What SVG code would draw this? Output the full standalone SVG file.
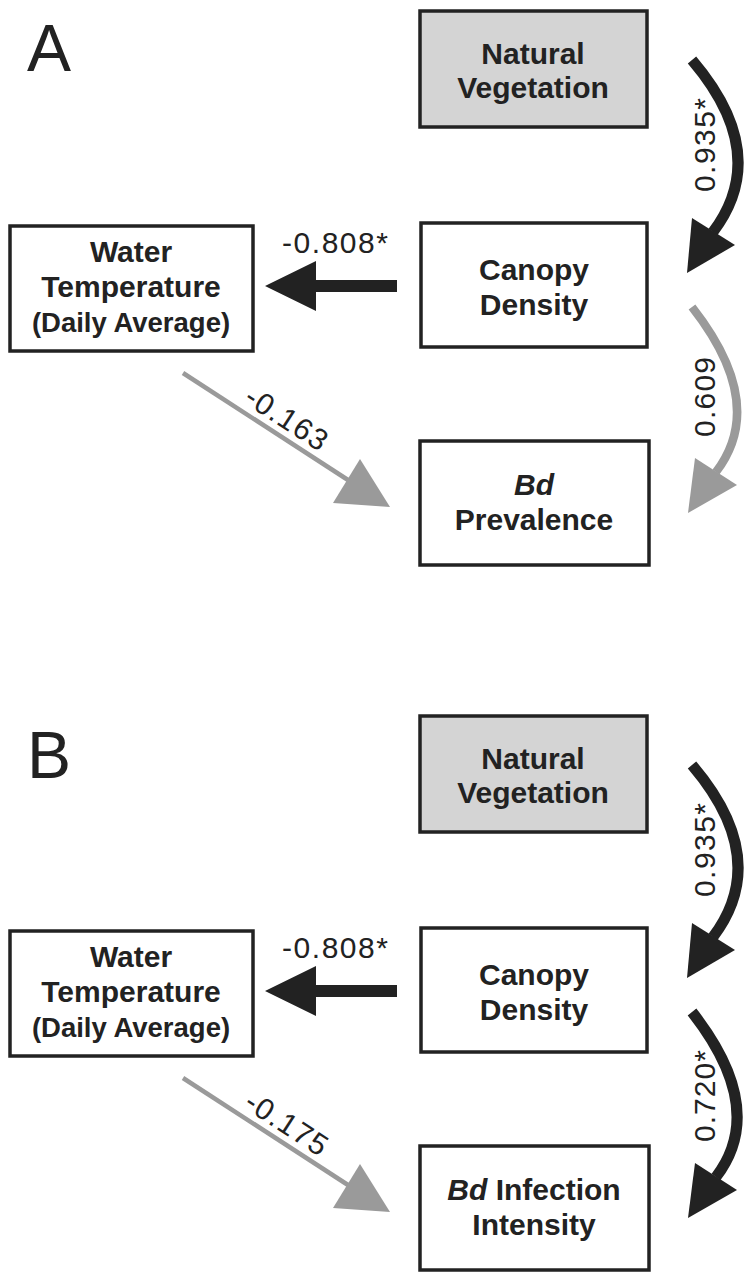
<svg xmlns="http://www.w3.org/2000/svg" width="753" height="1281" viewBox="0 0 753 1281">
<style>
.box{fill:#fff;stroke:#222;stroke-width:3.5}
.grey{fill:#d4d4d4}
.t{font-family:"Liberation Sans",Arial,sans-serif;font-weight:bold;font-size:30px;fill:#222;text-anchor:middle}
.ts{font-size:27.5px}
.lab{font-family:"Liberation Sans",Arial,sans-serif;font-size:30px;fill:#222;text-anchor:middle}
.panel{font-family:"Liberation Sans",Arial,sans-serif;font-size:66px;fill:#222}
.arcb{fill:none;stroke:#222;stroke-width:11}
.arcg{fill:none;stroke:#9a9a9a;stroke-width:8.5}
.lineg{fill:none;stroke:#9a9a9a;stroke-width:4.5}
.hb{fill:#222}
.hg{fill:#9a9a9a}
</style>
<rect width="753" height="1281" fill="#fff"/>
<text class="panel" x="27" y="71">A</text>
<text class="panel" x="27" y="778">B</text>

<g id="A-natural-vegetation">
<rect class="box grey" x="420" y="11" width="227" height="116"/>
<text class="t" x="533" y="64">Natural</text>
<text class="t" x="533" y="98">Vegetation</text>
</g>
<g id="A-canopy-density">
<rect class="box" x="421" y="223" width="226" height="124"/>
<text class="t" x="534" y="280">Canopy</text>
<text class="t" x="534" y="315">Density</text>
</g>
<g id="A-water-temperature">
<rect class="box" x="10" y="226" width="243" height="125"/>
<text class="t" x="131" y="262">Water</text>
<text class="t" x="131" y="297">Temperature</text>
<text class="t ts" x="131" y="332">(Daily Average)</text>
</g>
<g id="A-bd-prevalence">
<rect class="box" x="420" y="441" width="229" height="124"/>
<text class="t" x="534" y="495"><tspan font-style="italic">Bd</tspan></text>
<text class="t" x="534" y="530">Prevalence</text>
</g>

<g id="B-natural-vegetation">
<rect class="box grey" x="420" y="716" width="227" height="116"/>
<text class="t" x="533" y="769">Natural</text>
<text class="t" x="533" y="803">Vegetation</text>
</g>
<g id="B-canopy-density">
<rect class="box" x="421" y="928" width="226" height="124"/>
<text class="t" x="534" y="985">Canopy</text>
<text class="t" x="534" y="1020">Density</text>
</g>
<g id="B-water-temperature">
<rect class="box" x="10" y="931" width="243" height="125"/>
<text class="t" x="131" y="967">Water</text>
<text class="t" x="131" y="1002">Temperature</text>
<text class="t ts" x="131" y="1037">(Daily Average)</text>
</g>
<g id="B-bd-infection-intensity">
<rect class="box" x="420" y="1146" width="229" height="124"/>
<text class="t" x="534" y="1200"><tspan font-style="italic">Bd</tspan> Infection</text>
<text class="t" x="534" y="1235">Intensity</text>
</g>

<g id="connectors">
<!-- Panel A -->
<path class="arcb" d="M692,60 Q772,154 713,232"/>
<polygon class="hb" points="687,273 735,245 692,218"/>
<text class="lab" x="715" y="145" transform="rotate(-90 715 145)" textLength="94" lengthAdjust="spacing">0.935*</text>

<path class="hb" d="M397,280 H316 V261 L265,286 L316,311 V292 H397 Z"/>
<text class="lab" x="335" y="253" textLength="106" lengthAdjust="spacing">-0.808*</text>

<path class="arcg" d="M692,307 Q768,404 716,472"/>
<polygon class="hg" points="688,513 737,485 695,458"/>
<text class="lab" x="715" y="397" transform="rotate(-90 715 397)" textLength="80" lengthAdjust="spacing">0.609</text>

<line class="lineg" x1="183" y1="373" x2="348" y2="480"/>
<polygon class="hg" points="390,507 360,459 333,503"/>
<text class="lab" x="281" y="427" transform="rotate(33 281 427)" textLength="92" lengthAdjust="spacing">-0.163</text>

<!-- Panel B -->
<path class="arcb" d="M692,765 Q772,859 713,937"/>
<polygon class="hb" points="687,978 735,950 692,923"/>
<text class="lab" x="715" y="850" transform="rotate(-90 715 850)" textLength="94" lengthAdjust="spacing">0.935*</text>

<path class="hb" d="M397,985 H316 V966 L265,991 L316,1016 V997 H397 Z"/>
<text class="lab" x="335" y="958" textLength="106" lengthAdjust="spacing">-0.808*</text>

<path class="arcb" d="M692,1012 Q768,1109 716,1177"/>
<polygon class="hb" points="688,1218 737,1190 695,1163"/>
<text class="lab" x="715" y="1096" transform="rotate(-90 715 1096)" textLength="92" lengthAdjust="spacing">0.720*</text>

<line class="lineg" x1="183" y1="1078" x2="348" y2="1185"/>
<polygon class="hg" points="390,1212 360,1164 333,1208"/>
<text class="lab" x="281" y="1132" transform="rotate(33 281 1132)" textLength="92" lengthAdjust="spacing">-0.175</text>
</g>
</svg>
